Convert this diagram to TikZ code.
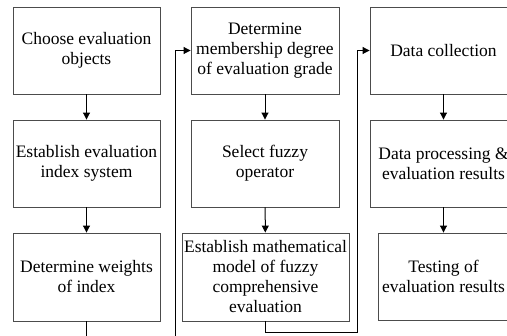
\documentclass[tikz,border=0pt]{standalone}
\usepackage{fontspec}
\setmainfont{Liberation Serif}
\usetikzlibrary{arrows.meta}
\begin{document}
\begin{tikzpicture}[x=1pt,y=-1pt,
  box/.style={draw=black!70,line width=0.9pt,rectangle,align=center,
    inner sep=0pt,font=\fontsize{17.5}{20}\selectfont},
  link/.style={draw=black,line width=1pt,-{Triangle[length=7pt,width=7pt]}}]
\useasboundingbox (0,0) rectangle (507,336);
\clip (0,0) rectangle (507,336);
% first column
\node[box,minimum width=147,minimum height=87] (a1) at (86.5,50.5) {Choose evaluation\\objects};
\node[box,minimum width=147,minimum height=87] (a2) at (86.5,163.5) {Establish evaluation\\index system};
\node[box,minimum width=147,minimum height=88] (a3) at (86.5,277) {Determine weights\\of index};
% second column
\node[box,minimum width=148,minimum height=87] (b1) at (265,50.5) {Determine\\membership degree\\of evaluation grade};
\node[box,minimum width=148,minimum height=87] (b2) at (265,163.5) {Select fuzzy\\operator};
\node[box,minimum width=167,minimum height=88] (b3) at (265.5,277) {Establish mathematical\\model of fuzzy\\comprehensive\\evaluation};
% third column
\node[box,minimum width=147,minimum height=87] (c1) at (443.5,50.5) {Data collection};
\node[box,minimum width=147,minimum height=87] (c2) at (443.5,163.5) {Data processing \&\\evaluation results};
\node[box,minimum width=131,minimum height=87] (c3) at (443.5,276.5) {Testing of\\evaluation results};
% connectors within columns
\draw[link] (a1) -- (a2);
\draw[link] (a2) -- (a3);
\draw[link] (b1) -- (b2);
\draw[link] (b2) -- (b3);
\draw[link] (c1) -- (c2);
\draw[link] (c2) -- (c3);
% connectors between columns
\coordinate (l2) at (175,346);
\coordinate (r2) at (357,333);
\draw[link] (a3.south) |- (l2) |- (b1.west);
\draw[link] (b3.south) |- (r2) |- (c1.west);
\end{tikzpicture}
\end{document}
